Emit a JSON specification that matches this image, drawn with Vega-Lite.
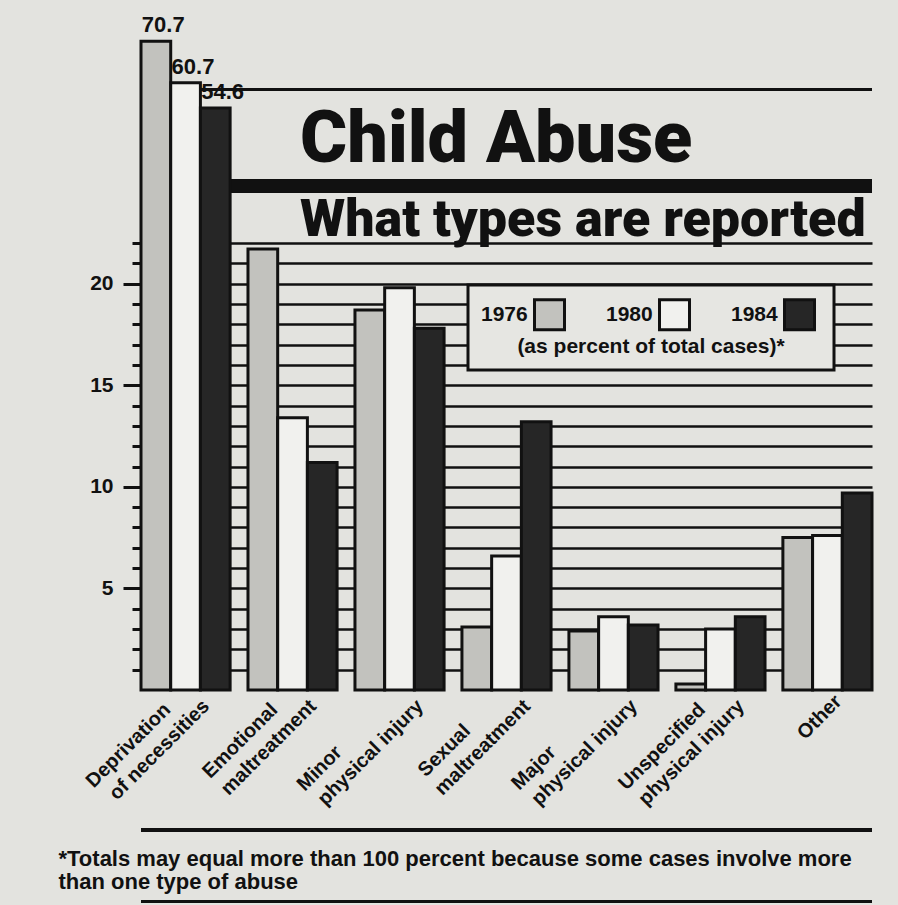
{
  "$schema": "https://vega.github.io/schema/vega-lite/v6.json",
  "width": 731,
  "height": 447,
  "autosize": "none",
  "padding": {"left": 141, "top": 243, "right": 26, "bottom": 215},
  "background": "#e3e3df",
  "config": {"view": {"stroke": null}, "font": "Liberation Sans", "legend": {"strokeWidth": 3}},
  "title": {
    "text": "Child Abuse",
    "subtitle": "What types are reported",
    "anchor": "start",
    "frame": "group",
    "dx": 159,
    "dy": 239,
    "offset": 6,
    "font": "Roboto",
    "fontSize": 72,
    "fontWeight": 900,
    "color": "#111111",
    "subtitleFont": "Roboto",
    "subtitleFontSize": 52,
    "subtitleFontWeight": 900,
    "subtitleColor": "#111111",
    "subtitlePadding": 18
  },
  "data": {
    "values": [
      {"category": "Deprivation of necessities", "year": "1976", "value": 70.7},
      {"category": "Deprivation of necessities", "year": "1980", "value": 60.7},
      {"category": "Deprivation of necessities", "year": "1984", "value": 54.6},
      {"category": "Emotional maltreatment", "year": "1976", "value": 21.7},
      {"category": "Emotional maltreatment", "year": "1980", "value": 13.4},
      {"category": "Emotional maltreatment", "year": "1984", "value": 11.2},
      {"category": "Minor physical injury", "year": "1976", "value": 18.7},
      {"category": "Minor physical injury", "year": "1980", "value": 19.8},
      {"category": "Minor physical injury", "year": "1984", "value": 17.8},
      {"category": "Sexual maltreatment", "year": "1976", "value": 3.1},
      {"category": "Sexual maltreatment", "year": "1980", "value": 6.6},
      {"category": "Sexual maltreatment", "year": "1984", "value": 13.2},
      {"category": "Major physical injury", "year": "1976", "value": 2.9},
      {"category": "Major physical injury", "year": "1980", "value": 3.6},
      {"category": "Major physical injury", "year": "1984", "value": 3.2},
      {"category": "Unspecified physical injury", "year": "1976", "value": 0.3},
      {"category": "Unspecified physical injury", "year": "1980", "value": 3.0},
      {"category": "Unspecified physical injury", "year": "1984", "value": 3.6},
      {"category": "Other", "year": "1976", "value": 7.5},
      {"category": "Other", "year": "1980", "value": 7.6},
      {"category": "Other", "year": "1984", "value": 9.7}
    ]
  },
  "layer": [
    {
      "mark": {"type": "rule", "color": "#111111", "strokeWidth": 13},
      "encoding": {"y": {"datum": 35.8}}
    },
    {
      "mark": {"type": "rule", "color": "#111111", "strokeWidth": 2.5},
      "encoding": {"y": {"datum": 59.05}}
    },
    {
      "mark": {"type": "rule", "color": "#111111", "strokeWidth": 3},
      "encoding": {"y": {"datum": -6.9}}
    },
    {
      "mark": {"type": "rule", "color": "#111111", "strokeWidth": 2},
      "encoding": {"y": {"datum": -10.4}}
    },
    {
      "mark": {"type": "bar", "stroke": "#111111", "strokeWidth": 3},
      "encoding": {
        "x": {
          "field": "category",
          "type": "nominal",
          "sort": ["Deprivation of necessities", "Emotional maltreatment", "Minor physical injury", "Sexual maltreatment", "Major physical injury", "Unspecified physical injury", "Other"],
          "scale": {"paddingInner": 0.167, "paddingOuter": 0},
          "axis": {
            "domain": false,
            "ticks": false,
            "labelAngle": -45,
            "labelAlign": "right",
            "labelBaseline": "middle",
            "labelPadding": {"condition": {"test": "indexof(datum.label, ' ') > 0", "value": -5}, "value": 8},
            "labelOffset": {"condition": {"test": "indexof(datum.label, ' ') > 0", "value": 3}, "value": 11},
            "labelFontSize": 20,
            "labelFontWeight": "bold",
            "labelColor": "#111111",
            "labelLineHeight": 25,
            "labelLimit": 300,
            "labelExpr": "indexof(datum.label, ' ') > 0 ? [pad(substring(datum.label, 0, indexof(datum.label, ' ')), indexof(datum.label, ' ') + round(0.6 * (length(datum.label) - 2 * indexof(datum.label, ' ') - 1)), '\u2800'), substring(datum.label, indexof(datum.label, ' ') + 1)] : datum.label",
            "title": ["*Totals may equal more than 100 percent because some cases involve more", "than one type of abuse"],
            "titleAnchor": "start",
            "titleAlign": "left",
            "titleX": -83,
            "titleY": 175,
            "titleBaseline": "alphabetic",
            "titleFontSize": 22,
            "titleFontWeight": "bold",
            "titleLineHeight": 23,
            "titleLimit": 900,
            "titleColor": "#111111"
          }
        },
        "xOffset": {"field": "year", "type": "nominal", "scale": {"paddingInner": 0, "paddingOuter": 0}},
        "y": {
          "field": "value",
          "type": "quantitative",
          "scale": {"domain": [0, 22, 71], "range": [447, 0, -203], "nice": false, "zero": false},
          "axis": {
            "title": null,
            "values": [1, 2, 3, 4, 5, 6, 7, 8, 9, 10, 11, 12, 13, 14, 15, 16, 17, 18, 19, 20, 21, 22],
            "tickCount": 40,
            "labelExpr": "round(datum.value) % 5 === 0 ? format(round(datum.value), 'd') : ''",
            "labelOverlap": false,
            "domain": false,
            "grid": true,
            "gridColor": "#111111",
            "gridWidth": 2.5,
            "gridOpacity": 1,
            "tickColor": "#111111",
            "tickWidth": 3,
            "tickSize": {"condition": {"test": "round(datum.value) % 5 === 0", "value": 18}, "value": 9},
            "labelFontSize": 21,
            "labelFontWeight": "bold",
            "labelColor": "#111111",
            "labelPadding": 10
          }
        },
        "fill": {
          "field": "year",
          "type": "nominal",
          "scale": {"domain": ["1976", "1980", "1984"], "range": ["#c2c2be", "#f1f1ee", "#262626"]},
          "legend": {
            "title": "(as percent of total cases)*",
            "orient": "none",
            "legendX": 327,
            "legendY": 42,
            "direction": "horizontal",
            "titleOrient": "bottom",
            "titleAnchor": "middle",
            "titleFontSize": 21,
            "titleFontWeight": "bold",
            "titleColor": "#111111",
            "titlePadding": 0,
            "titleLimit": 500,
            "labelFontSize": 21,
            "labelFontWeight": "bold",
            "labelColor": "#111111",
            "labelAlign": "left",
            "labelOffset": -85,
            "symbolOffset": 52,
            "symbolType": "square",
            "symbolSize": 900,
            "symbolStrokeColor": "#111111",
            "symbolStrokeWidth": 3,
            "columnPadding": 35,
            "fillColor": "#e6e6e2",
            "strokeColor": "#111111",
            "padding": 13
          }
        }
      }
    },
    {
      "transform": [{"filter": "datum.value > 22"}],
      "mark": {"type": "text", "align": "left", "baseline": "bottom", "dx": -14, "dy": -4, "fontSize": 22, "fontWeight": "bold", "color": "#111111"},
      "encoding": {
        "x": {"field": "category", "type": "nominal", "sort": ["Deprivation of necessities", "Emotional maltreatment", "Minor physical injury", "Sexual maltreatment", "Major physical injury", "Unspecified physical injury", "Other"]},
        "xOffset": {"field": "year", "type": "nominal"},
        "y": {"field": "value", "type": "quantitative"},
        "text": {"field": "value", "type": "quantitative", "format": ".1f"}
      }
    }
  ]
}
